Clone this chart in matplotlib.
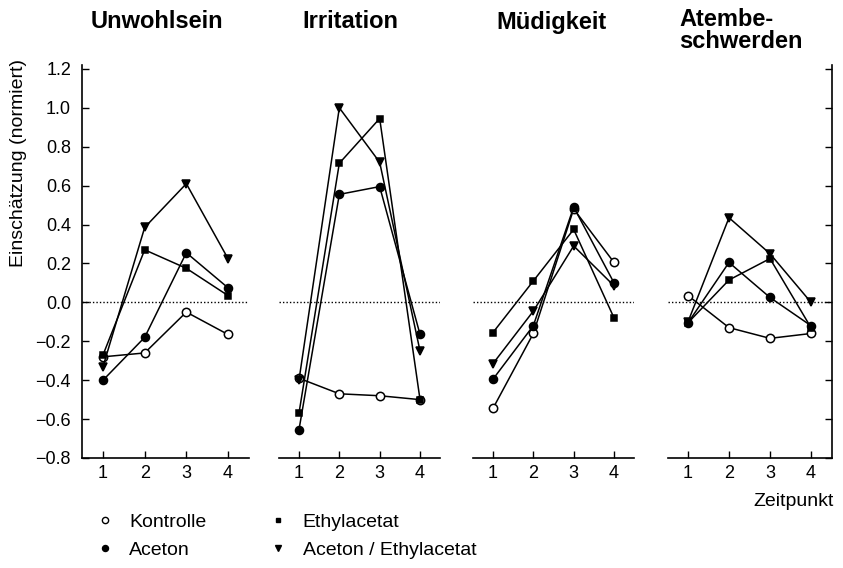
import matplotlib
matplotlib.use("Agg")
import matplotlib.pyplot as plt
from matplotlib.lines import Line2D

plt.rcParams['font.family'] = ['Liberation Sans', 'DejaVu Sans']

# Zeitpunkte und Panels
zeitpunkt = [1, 2, 3, 4]
panels = ["Unwohlsein", "Irritation", "Müdigkeit", "Atembe-\nschwerden"]

# normierte Einschaetzungen, je Panel vier Zeitpunkte
kontrolle = [[-0.28, -0.26, -0.05, -0.165],
             [-0.39, -0.47, -0.48, -0.50],
             [-0.545, -0.16, 0.48, 0.205],
             [0.035, -0.13, -0.185, -0.16]]
aceton = [[-0.40, -0.18, 0.255, 0.075],
          [-0.655, 0.555, 0.595, -0.165],
          [-0.395, -0.12, 0.49, 0.10],
          [-0.105, 0.205, 0.025, -0.12]]
ethylacetat = [[-0.27, 0.27, 0.175, 0.035],
               [-0.57, 0.715, 0.945, -0.50],
               [-0.155, 0.11, 0.375, -0.08],
               [-0.105, 0.115, 0.225, -0.13]]
aceton_ethyl = [[-0.33, 0.385, 0.61, 0.225],
                [-0.40, 1.0, 0.72, -0.25],
                [-0.315, -0.045, 0.29, 0.085],
                [-0.10, 0.435, 0.25, 0.0]]

serien = [
    ("Kontrolle", kontrolle, dict(marker='o', mfc='white', ms=6.0)),
    ("Aceton", aceton, dict(marker='o', mfc='black', ms=5.8)),
    ("Ethylacetat", ethylacetat, dict(marker='s', mfc='black', ms=4.2)),
    ("Aceton / Ethylacetat", aceton_ethyl, dict(marker='v', mfc='black', ms=5.5)),
]

W, H = 843, 568
fig = plt.figure(figsize=(W / 100, H / 100), dpi=100)

# Panelgrenzen in Pixeln (links, rechts)
px = [(82.2, 248.8), (278.8, 440.2), (472.8, 634.2), (667.5, 831.5)]
y_unten, y_oben = 458, 65

for i, (x0, x1) in enumerate(px):
    ax = fig.add_axes([x0 / W, (H - y_unten) / H, (x1 - x0) / W, (y_unten - y_oben) / H])
    ax.set_xlim(0.5, 4.5)
    ax.set_ylim(-0.8, 1.22)
    ax.axhline(0, color='black', lw=1.0, ls=(0, (1, 1.5)), zorder=1)
    for name, werte, stil in serien:
        ax.plot(zeitpunkt, werte[i], color='black', lw=1.1, mec='black',
                mew=1.1, zorder=3, **stil)
    for s in ax.spines.values():
        s.set_visible(False)
    ax.spines['bottom'].set_visible(True)
    ax.spines['bottom'].set_linewidth(1.2)
    ax.set_xticks(zeitpunkt)
    ax.tick_params(axis='x', direction='in', length=5, width=1.0, pad=5,
                   labelsize=13)
    ax.set_yticks([-0.8, -0.6, -0.4, -0.2, 0.0, 0.2, 0.4, 0.6, 0.8, 1.0, 1.2])
    ax.set_yticklabels([])
    ax.tick_params(axis='y', left=False, right=False)
    if i == 0:
        ax.spines['left'].set_visible(True)
        ax.spines['left'].set_linewidth(1.2)
        ax.spines['left'].set_bounds(-0.8, 1.22)
        ax.set_yticklabels([f"{v:.1f}".replace('-', '\u2212') for v in ax.get_yticks()])
        ax.tick_params(axis='y', left=True, direction='in', length=5, width=1.0,
                       pad=8, labelsize=13)
    if i == 3:
        ax.spines['right'].set_visible(True)
        ax.spines['right'].set_linewidth(1.2)
        ax.tick_params(axis='y', right=True, direction='in', length=5, width=1.0)

# Titel
fig.text(156.5 / W, 1 - 22 / H, panels[0], ha='center', va='center',
         fontsize=17, fontweight='bold')
fig.text(350 / W, 1 - 22 / H, panels[1], ha='center', va='center',
         fontsize=17, fontweight='bold')
fig.text(551.5 / W, 1 - 22 / H, panels[2], ha='center', va='center',
         fontsize=17, fontweight='bold')
fig.text(679 / W, 1 - 8 / H, panels[3], ha='left', va='top',
         fontsize=17, fontweight='bold', linespacing=0.95)

fig.text(19 / W, 1 - 163 / H, "Einschätzung (normiert)", rotation=90,
         ha='center', va='center', fontsize=14)
fig.text(794 / W, 1 - 502 / H, "Zeitpunkt", ha='center', va='center', fontsize=14)

handles = [Line2D([], [], ls='none', color='black', mec='black', mew=1.0,
                  marker=st['marker'], mfc=st['mfc'], ms=st['ms'] * 0.75)
           for _, _, st in serien]
labels = [name for name, _, _ in serien]
fig.legend(handles, labels, ncol=2, loc='upper left',
           bbox_to_anchor=(95 / W, 1 - 513 / H), frameon=False, fontsize=14,
           handlelength=1.0, handletextpad=0.75, labelspacing=0.55,
           columnspacing=3.2, borderpad=0, borderaxespad=0)

fig.savefig("out.png", dpi=100)
